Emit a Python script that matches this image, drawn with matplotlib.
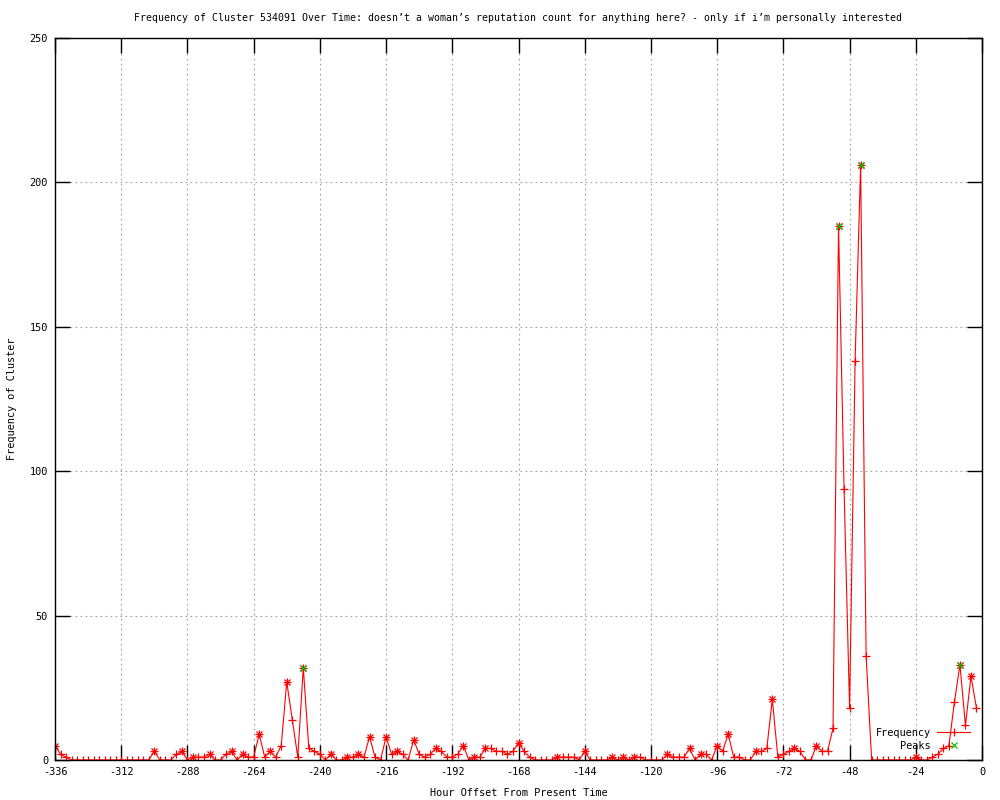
# Cluster frequency over time, gnuplot-like look.

import matplotlib
matplotlib.use("Agg")
import matplotlib.pyplot as plt
import numpy as np

plt.rcParams['font.family'] = ['DejaVu Sans Mono']
plt.rcParams['font.size'] = 7.4
plt.rcParams['axes.unicode_minus'] = False

# hours before now, every 2 hours
hours = np.arange(-336, 0, 2)
freq = [
    5, 2, 1, 0, 0, 0, 0, 0, 0, 0, 0, 0,
    0, 0, 0, 0, 0, 0, 3, 0, 0, 0, 2, 3,
    0, 1, 1, 1, 2, 0, 0, 2, 3, 0, 2, 1,
    1, 9, 1, 3, 1, 5, 27, 14, 1, 32, 4, 3,
    2, 0, 2, 0, 0, 1, 1, 2, 1, 8, 1, 0,
    8, 2, 3, 2, 0, 7, 2, 1, 2, 4, 3, 1,
    1, 2, 5, 0, 1, 1, 4, 4, 3, 3, 2, 3,
    6, 3, 1, 0, 0, 0, 0, 1, 1, 1, 1, 0,
    3, 0, 0, 0, 0, 1, 0, 1, 0, 1, 1, 0,
    0, 0, 0, 2, 1, 1, 1, 4, 0, 2, 2, 0,
    5, 3, 9, 1, 1, 0, 0, 3, 3, 4, 21, 1,
    2, 3, 4, 3, 0, 0, 5, 3, 3, 11, 185, 94,
    18, 138, 206, 36, 0, 0, 0, 0, 0, 0, 0, 0,
    1, 0, 0, 1, 2, 4, 5, 20, 33, 12, 29, 18,
]
peak_hours = [-246, -52, -44, -8]

xticks = np.arange(-336, 1, 24)
yticks = np.arange(0, 251, 50)

title = ("Frequency of Cluster 534091 Over Time: doesn\u2019t a woman\u2019s reputation "
         "count for anything here? - only if i\u2019m personally interested")

freq = np.array(freq)
# local maxima get an extra x so they show as '*'
lm = [i for i in range(len(freq))
      if freq[i] > (freq[i-1] if i > 0 else -1) and freq[i] >= (freq[i+1] if i < len(freq)-1 else -1)]
peak_vals = [freq[list(hours).index(h)] for h in peak_hours]

fig = plt.figure(figsize=(10, 8), dpi=100)
ax = fig.add_axes([0.055, 0.05, 0.927, 0.9025])

ax.plot(hours, freq, color='red', lw=0.8, marker='+', ms=6, mew=0.9, label='Frequency')
ax.plot(hours[lm], freq[lm], ls='none', color='red', marker='x', ms=4.5, mew=0.9)
ax.plot(peak_hours, peak_vals, ls='none', color='#00c000', marker='x', ms=5, mew=0.9, label='Peaks')

ax.set_xlim(-336, 0)
ax.set_ylim(0, 250)
ax.set_xticks(xticks)
ax.set_yticks(yticks)
ax.tick_params(direction='in', length=11, width=1, top=True, right=True, pad=5)
ax.grid(True, color='#a0a0a0', ls=(0, (1.5, 3)), lw=0.8)
for s in ax.spines.values():
    s.set_linewidth(1)

ax.set_title(title, fontsize=7.1, pad=12)
ax.set_xlabel("Hour Offset From Present Time", labelpad=8)
ax.set_ylabel("Frequency of Cluster", labelpad=9)

ax.legend(loc='lower right', bbox_to_anchor=(0.995, 0.003), frameon=False, markerfirst=False,
          numpoints=1, handlelength=3.2, handletextpad=0.6, labelspacing=0.3, borderpad=0.2)

fig.savefig("out.png", dpi=100)
